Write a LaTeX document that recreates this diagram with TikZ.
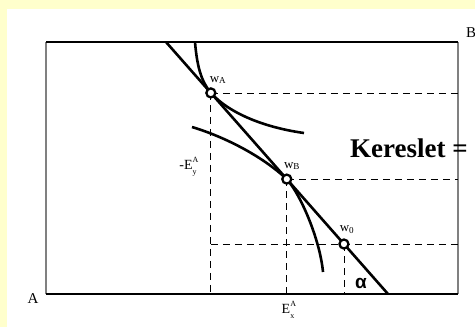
\documentclass[tikz,border=0pt]{standalone}
\usepackage{fontspec}
\setmainfont{Liberation Serif}
\newfontfamily\alphafont{Liberation Sans}
\usetikzlibrary{positioning,calc}
\definecolor{hatter}{RGB}{255,255,204}
\newcommand{\ix}[2]{\makebox[0pt][l]{\raisebox{1ex}{\footnotesize #1}}\raisebox{-0.8ex}{\footnotesize #2}}

\begin{document}
\begin{tikzpicture}[x=1pt,y=-1pt,
	pont/.style={circle,draw,fill=white,line width=2.3pt,minimum size=9pt,inner sep=0pt},
	gorbe/.style={line width=2.6pt},
	szagg/.style={line width=0.8pt,dash pattern=on 7pt off 5pt},
	cimke/.style={inner sep=0pt,font=\fontsize{13}{13}\selectfont}]
		\useasboundingbox (0,0) rectangle (475,327);
		\fill[hatter] (0,0) rectangle (475,327);
		\fill[white] (7,9) rectangle (475,327);
		% doboz
		\coordinate (A) at (46,294);
		\coordinate (B) at (458,42);
		\draw[gray,line width=1.3pt] (A) -- (A |- B);
		\draw[gray,line width=1.3pt] (B) -- (B |- A);
		\draw[line width=1.3pt] (A) -- (B |- A);
		\draw[line width=1.3pt] (A |- B) -- (B);
		% pontok a koltsegvetesi egyenesen
		\coordinate (kt) at (166,42);
		\coordinate (kb) at (388,294);
		\coordinate (pA) at ($(kt)!0.202!(kb)$);
		\coordinate (pB) at ($(kt)!0.544!(kb)$);
		\coordinate (p0) at ($(kt)!0.8016!(kb)$);
		% szaggatott vonalak
		\draw[szagg] (pA) -- (pA -| B);
		\draw[szagg] (pA) -- (pA |- A);
		\draw[szagg] (pB) -- (pB -| B);
		\draw[szagg] (pB) -- (pB |- A);
		\draw[szagg] (pA |- p0) -- (p0 -| B);
		\draw[szagg] (p0) -- (p0 |- A);
		% egyenes es gorbek
		\draw[gorbe] (kt) -- (kb);
		\draw[gorbe] (195,42) .. controls (197,66) and (201,81) .. (pA)
			.. controls (231,115) and (268,128) .. (304,133);
		\draw[gorbe] (192,127) .. controls (225,137) and (262,156) .. (pB)
			.. controls (301,195) and (320,240) .. (323,272);
		\node[pont] (wA) at (pA) {};
		\node[pont] (wB) at (pB) {};
		\node[pont] (w0) at (p0) {};
		% feliratok
		\node[cimke] (lwA) at (218,80) {w\textsubscript{A}};
		\node[cimke] (lwB) at (292,166) {w\textsubscript{B}};
		\node[cimke] (lw0) at (347,230) {w\textsubscript{0}};
		\node[cimke,font=\fontsize{14}{14}\selectfont] (Ey) at (188,167) {-E\ix{A}{y}};
		\node[cimke,font=\fontsize{14}{14}\selectfont] (Ex) at (288,310) {E\ix{A}{x}};
		\node[cimke,font=\fontsize{15}{15}\selectfont] (lA) at (33,299) {A};
		\node[cimke,font=\fontsize{15}{15}\selectfont,anchor=west] (lB) at (466,33) {B};
		\node[inner sep=0pt,font=\alphafont\bfseries\fontsize{19}{19}\selectfont] (alfa) at (361,283) {α};
		\node[inner sep=0pt,anchor=base west,font=\bfseries\fontsize{27}{27}\selectfont] (kereslet) at (350,157) {Kereslet =};
	\end{tikzpicture}
\end{document}
